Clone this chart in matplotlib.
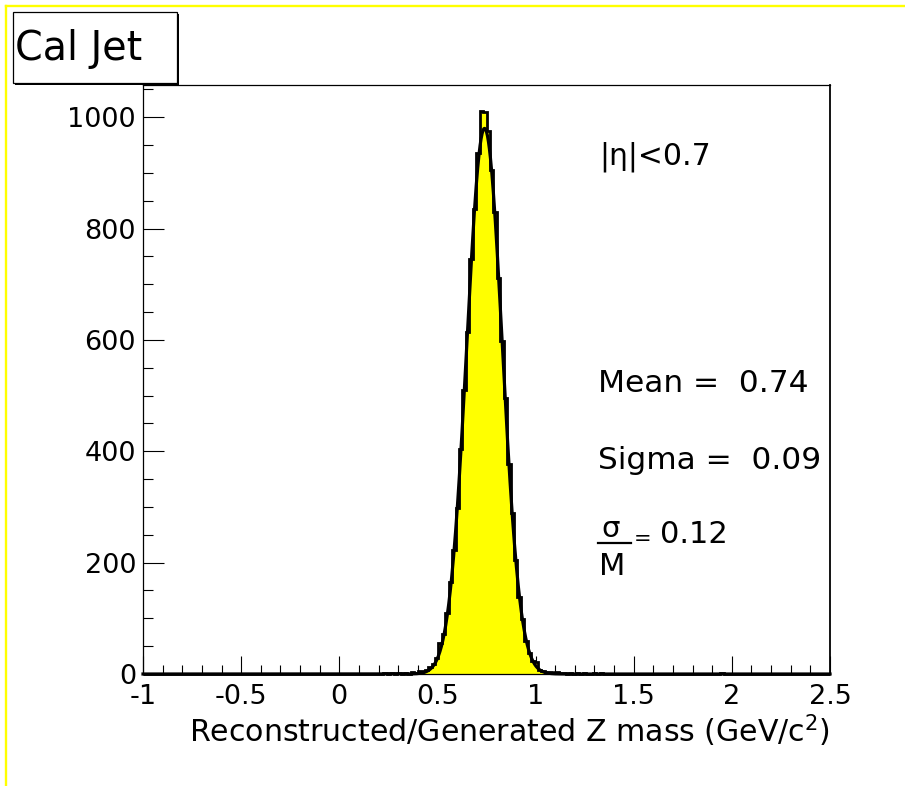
#!/usr/bin/env python

import numpy as np
from matplotlib import pyplot as plt
from matplotlib.patches import Rectangle
from matplotlib.lines import Line2D
from matplotlib.ticker import MultipleLocator, FuncFormatter

W, H = 905, 786

# histogram binning: 200 bins between -1 and 2.5
x_min, x_max, n_bins = -1.0, 2.5, 200

# counts of the main peak, starting at bin 76
peak_first_bin = 76
peak_counts = [2, 0, 3, 2, 5, 6, 8, 12, 18, 28,
               55, 72, 110, 165, 222, 298, 405, 510, 615, 745,
               835, 935, 1012, 1010, 975, 905, 830, 712, 598, 495,
               378, 290, 205, 138, 98, 60, 38, 24, 22, 8,
               6, 4, 3, 2, 3, 2, 1]

# a few scattered entries in the tails
tail_bins = [70, 72, 74, 124, 126, 128, 131, 133, 168]
tail_counts = [1, 2, 1, 2, 1, 2, 1, 1, 2]

# gaussian fit shown on the plot
fit_mean = 0.74
fit_sigma = 0.09
fit_amp = 980
fit_ratio = 0.12

x_ticks = [-1, -0.5, 0, 0.5, 1, 1.5, 2, 2.5]
y_ticks = [0, 200, 400, 600, 800, 1000]


def fx(px):
    return px / W


def fy(py):
    return 1 - py / H


def build_counts():
    counts = np.zeros(n_bins)
    counts[peak_first_bin:peak_first_bin + len(peak_counts)] = peak_counts
    for b, c in zip(tail_bins, tail_counts):
        counts[b] = c
    return counts


def draw():
    plt.rcParams['font.family'] = 'DejaVu Sans'
    plt.rcParams['mathtext.default'] = 'regular'
    plt.rcParams['axes.unicode_minus'] = False

    fig = plt.figure(figsize=(W / 100, H / 100), dpi=100)
    ax = fig.add_axes([fx(143), fy(674), fx(830) - fx(143), fy(85) - fy(674)])

    edges = np.linspace(x_min, x_max, n_bins + 1)
    counts = build_counts()

    ax.stairs(counts, edges, fill=True, color='#ffff00', zorder=2)
    ax.stairs(counts, edges, color='black', lw=2.0, zorder=3, clip_on=False)

    xs = np.linspace(x_min, x_max, 1401)
    fit = fit_amp * np.exp(-0.5 * ((xs - fit_mean) / fit_sigma) ** 2)
    ax.plot(xs, fit, color='black', lw=2.3, zorder=4, clip_on=False)

    ax.set_xlim(x_min, x_max)
    ax.set_ylim(0, 1058)

    ax.set_xticks(x_ticks)
    ax.set_yticks(y_ticks)
    ax.xaxis.set_minor_locator(MultipleLocator(0.1))
    ax.yaxis.set_minor_locator(MultipleLocator(50))
    ax.xaxis.set_major_formatter(FuncFormatter(lambda v, p: '%g' % v))
    ax.tick_params(axis='x', which='major', direction='in', length=12.7, width=0.8,
                   labelsize=19.5, pad=7, top=False)
    ax.tick_params(axis='x', which='minor', direction='in', length=6.4, width=0.8, top=False)
    ax.tick_params(axis='y', which='major', direction='in', length=14.8, width=0.8,
                   labelsize=19.5, pad=5, right=False)
    ax.tick_params(axis='y', which='minor', direction='in', length=7.4, width=0.8, right=False)

    for s in ax.spines.values():
        s.set_linewidth(0.9)
    ax.spines['right'].set_linewidth(1.3)

    # axis title
    fig.text(fx(830), fy(742), r'Reconstructed/Generated Z mass (GeV/c$^{2}$)', fontsize=21.6,
             ha='right', va='baseline')

    # fit results
    fig.text(fx(599), fy(164), u'|\u03b7|<0.7', fontsize=21.5, va='baseline')
    fig.text(fx(598), fy(392), 'Mean =  %.2f' % fit_mean, fontsize=22.5, va='baseline')
    fig.text(fx(598), fy(469), 'Sigma =  %.2f' % fit_sigma, fontsize=22.5, va='baseline')
    fig.text(fx(611), fy(537), u'\u03c3', fontsize=21, ha='center', va='baseline')
    fig.add_artist(Line2D([fx(598), fx(631)], [fy(543), fy(543)], color='black', lw=1.6))
    fig.text(fx(612), fy(575), 'M', fontsize=22, ha='center', va='baseline')
    fig.text(fx(634), fy(545), '=', fontsize=15, va='baseline')
    fig.text(fx(660), fy(543), '%.2f' % fit_ratio, fontsize=22, va='baseline')

    # title box with shadow
    fig.add_artist(Rectangle((fx(15), fy(85)), fx(164), fy(14) - fy(85),
                             facecolor='black', edgecolor='none'))
    fig.add_artist(Rectangle((fx(13), fy(83)), fx(164), fy(12) - fy(83),
                             facecolor='white', edgecolor='black', lw=0.9))
    fig.text(fx(15), fy(60), 'Cal Jet', fontsize=28.5, va='baseline')

    # yellow canvas border
    fig.add_artist(Line2D([fx(6), fx(905)], [fy(6), fy(6)], color='#ffff00', lw=1.7))
    fig.add_artist(Line2D([fx(6), fx(6)], [fy(6), fy(786)], color='#ffff00', lw=1.7))

    fig.savefig('out.png', dpi=100)


if __name__ == "__main__":
    draw()
